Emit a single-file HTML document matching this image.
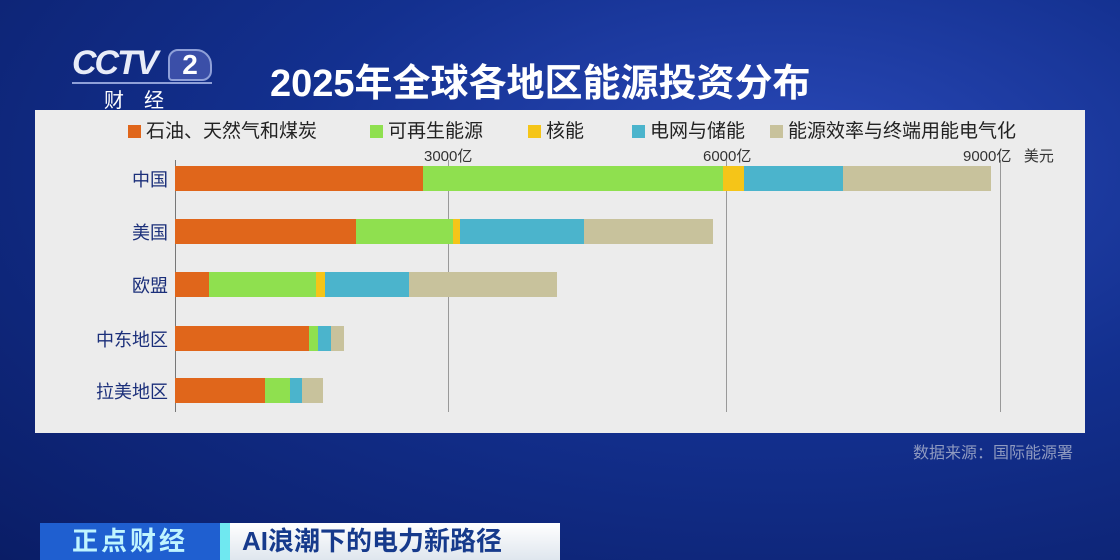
<!DOCTYPE html>
<html><head><meta charset="utf-8"><style>
*{margin:0;padding:0;box-sizing:border-box}
body{width:1120px;height:560px;overflow:hidden;position:relative;font-family:"Liberation Sans","Noto Sans CJK SC",sans-serif;
background:radial-gradient(ellipse at 70% 30%,#2a49b8 0%,#13308f 45%,#0a1d66 100%);}
.abs{position:absolute}
.panel{left:35px;top:110px;width:1050px;height:323px;background:#ececec;}
.leg{top:116px;font-size:19px;color:#222;white-space:nowrap}
.sw{display:inline-block;width:13px;height:13px;vertical-align:-1px;margin-right:5px}
.grid{top:160px;width:1px;height:252px;background:#999}
.tick{top:145px;font-size:15px;color:#333;white-space:nowrap}
.lab{font-size:18px;color:#1b2f7a;text-align:right;width:90px;left:78px}
.bar{height:25px;display:flex}
.bar div{height:100%}
.o{background:#e0661b}.g{background:#8fe04f}.y{background:#f5c518}.b{background:#4bb4cc}.t{background:#c8c29c}
</style></head><body>
<div class="abs" style="left:72px;top:44px;font:italic bold 34px 'Liberation Sans',sans-serif;color:#e8ecf8;letter-spacing:-2px">CCTV</div>
<div class="abs" style="left:168px;top:49px;width:44px;height:32px;border-radius:10px 16px 10px 4px;background:#3b4fa8;border:2px solid #8fa0d8;color:#fff;font:bold 28px 'Liberation Sans',sans-serif;text-align:center;line-height:28px">2</div>
<div class="abs" style="left:72px;top:82px;width:140px;height:2px;background:#8fa0d8"></div>
<div class="abs" style="left:104px;top:84px;font-size:20px;color:#fff;letter-spacing:20px">财经</div>
<div class="abs" style="left:270px;top:52px;font-size:38px;font-weight:bold;color:#fff;white-space:nowrap">2025年全球各地区能源投资分布</div>
<div class="abs panel"></div>
<div class="abs leg" style="left:128px"><span class="sw o"></span>石油、天然气和煤炭</div>
<div class="abs leg" style="left:370px"><span class="sw g"></span>可再生能源</div>
<div class="abs leg" style="left:528px"><span class="sw y"></span>核能</div>
<div class="abs leg" style="left:632px"><span class="sw b"></span>电网与储能</div>
<div class="abs leg" style="left:770px"><span class="sw t"></span>能源效率与终端用能电气化</div>
<div class="abs grid" style="left:175px;background:#777"></div>
<div class="abs grid" style="left:448px"></div>
<div class="abs grid" style="left:726px"></div>
<div class="abs grid" style="left:1000px"></div>
<div class="abs tick" style="left:424px">3000亿</div>
<div class="abs tick" style="left:703px">6000亿</div>
<div class="abs tick" style="left:963px">9000亿&nbsp;&nbsp;&nbsp;美元</div>
<div class="abs lab" style="top:166px">中国</div>
<div class="abs lab" style="top:219px">美国</div>
<div class="abs lab" style="top:272px">欧盟</div>
<div class="abs lab" style="top:326px">中东地区</div>
<div class="abs lab" style="top:378px">拉美地区</div>
<div class="abs bar" style="left:175px;top:166px"><div class="o" style="width:248px"></div><div class="g" style="width:300px"></div><div class="y" style="width:21px"></div><div class="b" style="width:99px"></div><div class="t" style="width:148px"></div></div>
<div class="abs bar" style="left:175px;top:219px"><div class="o" style="width:181px"></div><div class="g" style="width:97px"></div><div class="y" style="width:7px"></div><div class="b" style="width:124px"></div><div class="t" style="width:129px"></div></div>
<div class="abs bar" style="left:175px;top:272px"><div class="o" style="width:34px"></div><div class="g" style="width:107px"></div><div class="y" style="width:9px"></div><div class="b" style="width:84px"></div><div class="t" style="width:148px"></div></div>
<div class="abs bar" style="left:175px;top:326px"><div class="o" style="width:134px"></div><div class="g" style="width:9px"></div><div class="b" style="width:13px"></div><div class="t" style="width:13px"></div></div>
<div class="abs bar" style="left:175px;top:378px"><div class="o" style="width:90px"></div><div class="g" style="width:25px"></div><div class="b" style="width:12px"></div><div class="t" style="width:21px"></div></div>
<div class="abs" style="left:913px;top:439px;font-size:16px;color:#8f9ac0;white-space:nowrap">数据来源：国际能源署</div>
<div class="abs" style="left:40px;top:523px;width:180px;height:37px;background:#1f5fd0;color:#bff4ff;font-size:26px;font-weight:bold;text-align:center;line-height:37px;letter-spacing:3px">正点财经</div>
<div class="abs" style="left:220px;top:523px;width:10px;height:37px;background:#6fe8f0"></div>
<div class="abs" style="left:230px;top:523px;width:330px;height:37px;background:linear-gradient(#ffffff,#dfe6ee);color:#163a8c;font-size:26px;font-weight:bold;line-height:37px;padding-left:12px">AI浪潮下的电力新路径</div>
</body></html>
